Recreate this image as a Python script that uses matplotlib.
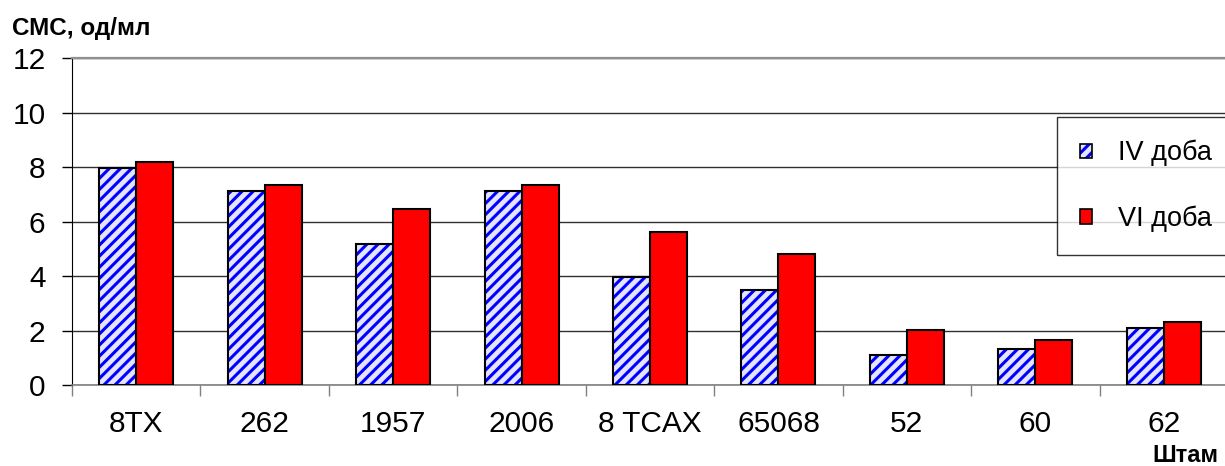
import matplotlib.pyplot as plt
import numpy as np
from matplotlib.patches import Patch

# Штами та значення СМС на IV та VI добу
strains = ["8TX", "262", "1957", "2006", "8 TCAX", "65068", "52", "60", "62"]
day_iv = [7.95, 7.12, 5.18, 7.12, 3.98, 3.5, 1.1, 1.32, 2.08]
day_vi = [8.18, 7.33, 6.45, 7.33, 5.6, 4.82, 2.02, 1.65, 2.3]

plt.rcParams['font.family'] = ['Liberation Sans', 'DejaVu Sans']
plt.rcParams['hatch.color'] = '#0000ff'
plt.rcParams['hatch.linewidth'] = 2.2

fig = plt.figure(figsize=(12.25, 4.66), dpi=100)
ax = fig.add_axes([72 / 1225, 81 / 466, 1156 / 1225, 327 / 466])

x = np.arange(len(strains))
w = 0.288

# IV доба: штриховка без контуру, потім чорний контур зверху
ax.bar(x - w / 2, day_iv, w, facecolor='#e4e4ff', hatch='///', zorder=3)
ax.bar(x - w / 2, day_iv, w, facecolor='none', edgecolor='black',
       linewidth=1.5, zorder=4)
ax.bar(x + w / 2, day_vi, w, facecolor='#ff0000', edgecolor='black',
       linewidth=1.5, zorder=4)

ax.set_xlim(-0.5, len(strains) - 0.5)
ax.set_ylim(0, 12)
ax.set_yticks(range(0, 13, 2))
ax.tick_params(axis='y', labelsize=21.5, length=7, width=1, pad=12)

# мітки по центрах груп, риски між групами
ax.set_xticks(np.arange(-0.5, len(strains), 1))
ax.set_xticklabels([])
ax.set_xticks(x, minor=True)
ax.set_xticklabels(strains, minor=True)
ax.tick_params(axis='x', which='major', length=8, width=1, color='#808080')
ax.tick_params(axis='x', which='minor', length=0, labelsize=21.5, pad=18)

ax.grid(axis='y', color='#303030', linewidth=1, zorder=0)
ax.set_axisbelow(True)
ax.spines['right'].set_visible(False)
ax.spines['top'].set_color('#909090')
ax.spines['top'].set_linewidth(1.6)
ax.spines['bottom'].set_color('#808080')
ax.spines['bottom'].set_linewidth(1.2)
ax.spines['left'].set_color('black')

h_iv = (Patch(facecolor='#e4e4ff', hatch='///'),
        Patch(facecolor='none', edgecolor='black', linewidth=1.2))
h_vi = Patch(facecolor='#ff0000', edgecolor='black', linewidth=1.2)
leg = ax.legend([h_iv, h_vi], ["IV доба", "VI доба"],
                loc='upper left', bbox_to_anchor=(1057 / 1225, 1 - 117 / 466),
                bbox_transform=fig.transFigure, fontsize=19.5, frameon=True,
                fancybox=False, borderpad=0.85, labelspacing=1.45,
                handlelength=0.45, handleheight=0.45, handletextpad=0.95,
                borderaxespad=0)
leg.get_frame().set_edgecolor('black')
leg.get_frame().set_linewidth(1)

fig.text(12 / 1225, 1 - 28 / 466, "СМС, од/мл", fontsize=17.5,
         fontweight='bold', va='center', ha='left')
fig.text(1185 / 1225, 1 - 455 / 466, "Штам", fontsize=17,
         fontweight='bold', va='center', ha='center')

fig.savefig("out.png", dpi=100)
